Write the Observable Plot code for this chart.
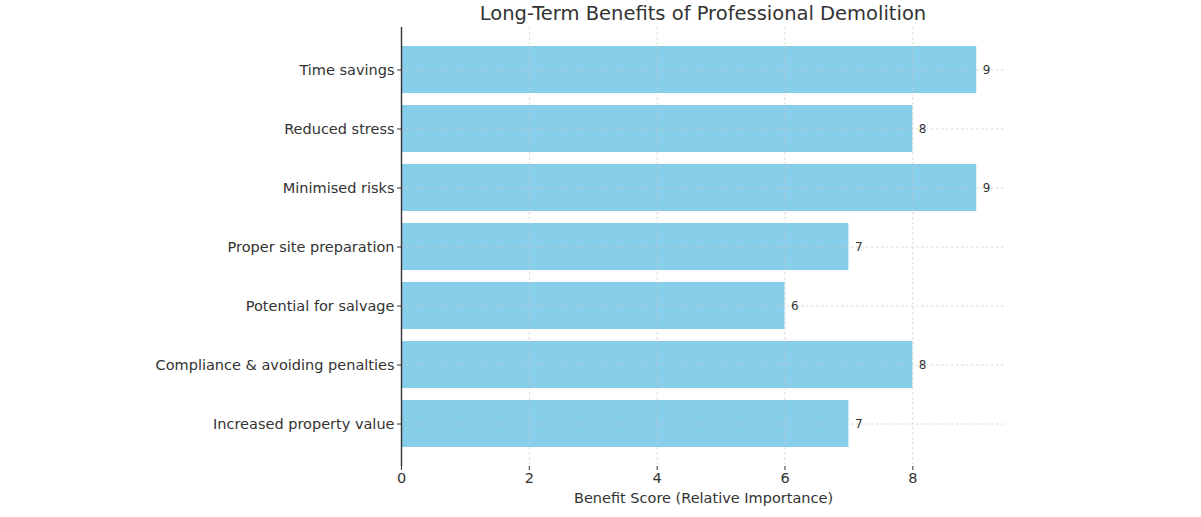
<!DOCTYPE html>
<html><head><meta charset="utf-8">
<script src="https://cdn.jsdelivr.net/npm/d3@7"></script>
<script src="https://cdn.jsdelivr.net/npm/@observablehq/plot@0.6"></script>
<style>
html,body{margin:0;padding:0;background:#fff;}
#wrap{position:relative;width:1201px;height:517px;font-family:"DejaVu Sans",sans-serif;}
#title{position:absolute;left:401px;width:604px;top:0;height:27px;text-align:center;font-size:19.5px;line-height:27px;color:#333;}
#chart{position:absolute;left:0;top:27px;}
</style></head>
<body><div id="wrap"><div id="title">Long-Term Benefits of Professional Demolition</div><div id="chart"></div></div>
<script>
const categories = ["Time savings","Reduced stress","Minimised risks","Proper site preparation","Potential for salvage","Compliance & avoiding penalties","Increased property value"];
const scores = [9,8,9,7,6,8,7];
const xTicks = [0,2,4,6,8];
const data = categories.map((c,i)=>({benefit:c, score:scores[i]}));

const chart = Plot.plot({
  width: 1201, height: 490,
  marginLeft: 401, marginRight: 196, marginTop: 0, marginBottom: 51,
  style: {fontFamily: '"DejaVu Sans", sans-serif', fontSize: "14.5px", color: "#333", background: "#fff"},
  x: {domain: [0, 9.45], ticks: xTicks, label: null},
  y: {domain: categories, paddingInner: 0.2, paddingOuter: 0.32, label: null},
  marks: [
    Plot.barX(data, {x: "score", y: "benefit", fill: "#87CEEB"}),
    Plot.gridX(xTicks, {stroke: "#c8c8c8", strokeOpacity: 0.7, strokeDasharray: "2.5,2.5"}),
    Plot.gridY(categories, {stroke: "#c8c8c8", strokeOpacity: 0.7, strokeDasharray: "2.5,2.5"}),
    Plot.axisX(xTicks, {tickSize: 4, tickPadding: 2, fontSize: 14.5, color: "#333", label: null}),
    Plot.axisY(categories, {tickSize: 4, tickPadding: 3, fontSize: 14.5, color: "#333", label: null}),
    Plot.ruleX([0], {stroke: "#333", strokeWidth: 1.4}),
    Plot.ruleY([0], {y: () => 0, stroke: "#333", strokeWidth: 1.4, frameAnchor: "bottom"}),
    Plot.text(data, {x: "score", y: "benefit", text: d => String(d.score), dx: 6, textAnchor: "start", fontSize: 12, fill: "#333"}),
    Plot.text(["Benefit Score (Relative Importance)"], {frameAnchor: "bottom", dy: 36, fontSize: 14.5, fill: "#333"})
  ]
});
document.getElementById("chart").appendChild(chart);
</script></body></html>
